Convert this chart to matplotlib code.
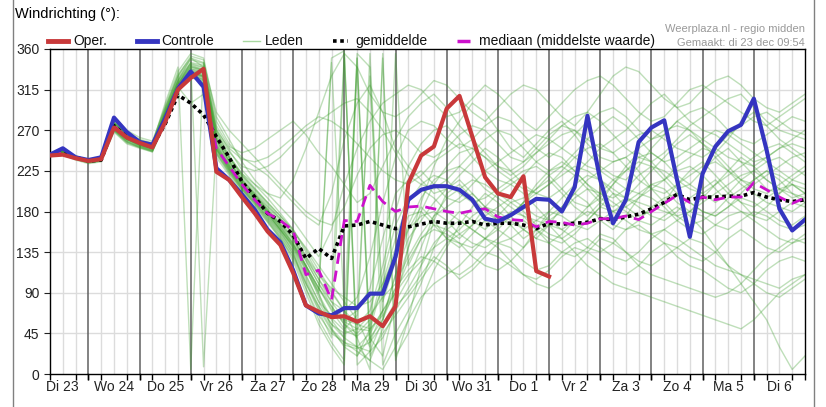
import numpy as np
import matplotlib
matplotlib.use('Agg')
import matplotlib.pyplot as plt
from matplotlib.lines import Line2D

plt.rcParams['font.family'] = ['Liberation Sans', 'DejaVu Sans']

# hours after Di 23 00:00, one value every 6 hours
hours = np.arange(6, 361, 6)
oper_hours = hours[:40]

day_labels = ['Di 23', 'Wo 24', 'Do 25', 'Vr 26', 'Za 27', 'Zo 28', 'Ma 29', 'Di 30',
              'Wo 31', 'Do 1', 'Vr 2', 'Za 3', 'Zo 4', 'Ma 5', 'Di 6']
y_ticks = [0, 45, 90, 135, 180, 225, 270, 315, 360]

oper = [242, 243, 239, 236, 238, 273, 262, 256, 251, 279, 315, 328, 338, 224, 215, 196,
        178, 158, 143, 112, 76, 69, 63, 64, 58, 64, 53, 75, 211, 242, 252, 294, 308, 263,
        218, 200, 196, 219, 114, 108]

controle = [243, 250, 240, 237, 240, 284, 268, 257, 254, 283, 316, 335, 318, 228, 215, 199,
            182, 160, 146, 115, 76, 67, 65, 73, 73, 89, 89, 130, 193, 204, 208, 208, 204, 193,
            172, 169, 176, 185, 194, 193, 180, 207, 286, 215, 167, 193, 257, 273, 281, 215,
            152, 222, 252, 269, 276, 305, 248, 183, 159, 171]

gemiddelde = [243, 245, 240, 236, 237, 275, 263, 257, 252, 277, 309, 300, 287, 263, 240, 213,
              196, 178, 169, 154, 128, 139, 128, 164, 165, 169, 165, 161, 163, 166, 169, 167,
              167, 169, 165, 167, 167, 165, 161, 167, 166, 167, 168, 172, 171, 174, 177, 183,
              190, 199, 193, 196, 196, 197, 197, 201, 196, 193, 191, 193]

mediaan = [243, 245, 240, 236, 238, 275, 262, 256, 252, 284, 318, 334, 318, 250, 230, 210,
           193, 178, 170, 159, 110, 115, 82, 170, 169, 209, 191, 180, 185, 186, 183, 180,
           178, 181, 183, 174, 171, 170, 163, 169, 168, 165, 167, 172, 172, 175, 171, 180,
           189, 198, 190, 196, 193, 196, 196, 212, 204, 196, 189, 195]

leden = [
    [244, 246, 240, 235, 238, 276, 262, 255, 250, 285, 318, 335, 330, 250, 228, 210,
     195, 178, 160, 140, 110, 80, 65, 60, 70, 95, 150, 200, 215, 225, 210, 195,
     190, 200, 185, 170, 175, 190, 205, 215, 200, 185, 175, 190, 210, 230, 245, 235,
     220, 205, 210, 225, 240, 250, 235, 220, 205, 200, 215, 225],
    [242, 248, 241, 237, 239, 270, 258, 252, 248, 290, 325, 350, 340, 260, 235, 215,
     200, 185, 170, 150, 120, 90, 50, 30, 20, 40, 60, 110, 160, 185, 170, 150,
     140, 155, 170, 160, 150, 140, 160, 175, 185, 200, 190, 170, 160, 175, 195, 210,
     205, 190, 180, 195, 210, 225, 240, 230, 215, 205, 195, 200],
    [245, 244, 238, 234, 236, 280, 265, 258, 255, 300, 340, 5, 345, 270, 240, 220,
     205, 190, 175, 160, 135, 110, 90, 70, 350, 40, 20, 80, 140, 190, 230, 260,
     280, 300, 290, 270, 250, 240, 255, 270, 280, 265, 245, 230, 220, 215, 230, 250,
     265, 280, 270, 255, 245, 260, 280, 290, 275, 260, 250, 240],
    [243, 247, 242, 236, 238, 272, 260, 254, 249, 282, 320, 345, 8, 255, 232, 212,
     198, 180, 165, 148, 125, 100, 75, 55, 45, 60, 95, 140, 175, 180, 165, 150,
     160, 175, 185, 180, 170, 160, 150, 145, 155, 170, 180, 175, 165, 160, 170, 185,
     195, 200, 190, 180, 175, 185, 195, 190, 180, 170, 165, 175],
    [241, 245, 239, 236, 240, 285, 270, 262, 258, 295, 330, 352, 348, 280, 255, 240,
     230, 220, 205, 190, 175, 165, 200, 260, 300, 320, 290, 250, 230, 215, 200, 205,
     220, 235, 250, 240, 225, 210, 200, 195, 205, 220, 235, 250, 260, 270, 285, 300,
     310, 295, 280, 270, 265, 255, 245, 235, 240, 250, 260, 270],
    [244, 243, 237, 233, 235, 268, 255, 250, 246, 278, 312, 330, 322, 240, 220, 200,
     185, 168, 150, 130, 100, 70, 40, 350, 30, 15, 50, 75, 90, 110, 130, 120,
     105, 115, 130, 145, 140, 125, 115, 120, 135, 145, 150, 140, 130, 125, 135, 150,
     160, 150, 140, 130, 120, 115, 110, 105, 100, 95, 105, 110],
    [243, 246, 240, 236, 237, 274, 261, 256, 252, 288, 322, 338, 335, 262, 238, 218,
     202, 186, 172, 155, 130, 105, 80, 60, 55, 70, 120, 180, 230, 255, 270, 275,
     260, 240, 225, 215, 210, 220, 235, 245, 240, 225, 210, 200, 195, 205, 220, 230,
     225, 215, 205, 200, 210, 220, 230, 240, 250, 255, 245, 235],
    [242, 245, 240, 235, 237, 276, 263, 254, 251, 284, 316, 332, 328, 248, 226, 206,
     190, 174, 158, 135, 95, 60, 35, 15, 355, 340, 10, 45, 70, 100, 140, 165,
     180, 170, 160, 175, 190, 180, 165, 155, 150, 160, 170, 185, 200, 195, 185, 175,
     170, 180, 195, 205, 215, 200, 190, 185, 195, 205, 210, 200],
    [245, 247, 241, 237, 239, 278, 266, 259, 254, 292, 328, 345, 342, 275, 252, 245,
     250, 260, 270, 280, 265, 245, 230, 210, 190, 200, 230, 260, 285, 300, 310, 295,
     275, 260, 245, 230, 220, 230, 245, 260, 275, 285, 290, 280, 265, 250, 240, 235,
     245, 260, 275, 285, 295, 305, 310, 295, 280, 270, 265, 260],
    [243, 244, 239, 235, 236, 271, 259, 253, 247, 280, 314, 328, 325, 245, 225, 205,
     188, 170, 152, 128, 95, 65, 45, 35, 25, 15, 5, 30, 60, 85, 100, 110,
     120, 135, 150, 140, 125, 110, 100, 95, 105, 120, 135, 150, 145, 135, 125, 120,
     130, 140, 150, 145, 135, 120, 110, 100, 90, 85, 95, 105],
    [242, 246, 241, 236, 238, 275, 262, 255, 250, 286, 320, 336, 333, 252, 230, 210,
     195, 178, 160, 140, 115, 90, 345, 70, 40, 355, 60, 110, 150, 170, 190, 205,
     215, 200, 185, 175, 165, 150, 160, 180, 195, 210, 220, 215, 200, 185, 175, 180,
     190, 210, 225, 235, 220, 205, 190, 175, 170, 180, 190, 185],
    [244, 245, 239, 235, 237, 273, 260, 255, 251, 283, 318, 300, 310, 258, 236, 216,
     200, 182, 165, 145, 120, 95, 70, 50, 65, 330, 80, 125, 165, 195, 215, 225,
     230, 220, 205, 195, 185, 175, 170, 180, 175, 165, 160, 170, 180, 190, 200, 210,
     215, 230, 240, 250, 245, 230, 215, 210, 220, 230, 240, 245],
    [243, 247, 240, 237, 239, 277, 264, 257, 253, 289, 324, 342, 337, 266, 242, 222,
     206, 190, 175, 158, 140, 120, 100, 80, 60, 30, 350, 20, 45, 80, 115, 140,
     165, 185, 200, 190, 175, 160, 150, 165, 185, 200, 215, 225, 235, 240, 225, 205,
     190, 175, 165, 170, 180, 195, 205, 215, 225, 215, 200, 190],
    [241, 244, 238, 234, 236, 270, 257, 251, 247, 281, 315, 331, 326, 246, 224, 205,
     190, 172, 155, 132, 100, 75, 55, 45, 50, 65, 85, 100, 130, 155, 175, 185,
     195, 210, 225, 235, 245, 255, 265, 260, 250, 240, 230, 225, 215, 205, 200, 195,
     185, 170, 160, 155, 165, 175, 180, 170, 160, 150, 145, 150],
    [245, 246, 240, 236, 238, 279, 267, 260, 256, 297, 335, 355, 350, 285, 260, 235,
     215, 200, 185, 170, 150, 130, 160, 210, 250, 280, 300, 310, 320, 315, 300, 285,
     290, 305, 320, 310, 295, 280, 270, 285, 300, 315, 325, 330, 320, 305, 290, 280,
     285, 300, 315, 320, 310, 300, 290, 280, 275, 285, 295, 305],
    [243, 245, 240, 236, 237, 272, 260, 254, 250, 284, 317, 334, 330, 250, 228, 208,
     193, 176, 160, 142, 118, 85, 60, 40, 340, 35, 70, 90, 110, 125, 140, 150,
     145, 130, 120, 115, 125, 140, 155, 165, 160, 150, 140, 135, 145, 160, 165, 155,
     145, 130, 120, 115, 105, 95, 90, 100, 115, 125, 130, 125],
    [242, 247, 241, 237, 239, 276, 263, 256, 252, 287, 321, 340, 336, 260, 236, 214,
     198, 182, 166, 150, 128, 105, 85, 355, 20, 50, 100, 150, 190, 210, 220, 215,
     200, 190, 195, 205, 215, 225, 230, 220, 205, 190, 185, 195, 210, 225, 240, 245,
     235, 220, 210, 200, 190, 200, 215, 225, 235, 240, 230, 220],
    [244, 246, 239, 235, 237, 274, 261, 253, 249, 283, 316, 333, 329, 249, 227, 207,
     192, 175, 158, 138, 108, 80, 55, 40, 30, 25, 40, 70, 95, 120, 145, 160,
     170, 160, 150, 145, 150, 160, 170, 165, 150, 135, 120, 110, 100, 95, 90, 85,
     80, 75, 70, 65, 60, 55, 50, 60, 75, 90, 100, 110],
    [243, 245, 241, 236, 238, 278, 264, 257, 253, 291, 326, 344, 340, 268, 246, 230,
     225, 230, 240, 255, 270, 280, 290, 300, 305, 290, 270, 245, 220, 210, 205, 215,
     230, 245, 260, 270, 265, 250, 235, 225, 230, 245, 260, 275, 285, 275, 260, 245,
     235, 240, 250, 260, 270, 265, 255, 245, 235, 225, 215, 210],
    [242, 244, 238, 235, 236, 269, 256, 251, 246, 279, 313, 329, 324, 243, 222, 203,
     187, 169, 150, 125, 90, 55, 30, 10, 350, 20, 45, 65, 85, 105, 125, 145,
     155, 165, 175, 185, 195, 185, 175, 170, 180, 195, 205, 200, 190, 180, 170, 165,
     175, 185, 175, 160, 140, 120, 100, 80, 60, 30, 5, 20],
    [243, 246, 240, 236, 238, 275, 263, 256, 252, 286, 320, 338, 334, 262, 240, 222,
     210, 200, 195, 215, 250, 290, 330, 355, 340, 310, 290, 285, 295, 310, 325, 320,
     305, 290, 280, 295, 310, 320, 315, 300, 285, 275, 290, 310, 330, 340, 335, 320,
     305, 295, 300, 315, 325, 330, 320, 305, 295, 290, 300, 310],
    [242, 245, 239, 236, 237, 273, 260, 254, 249, 282, 316, 333, 329, 252, 230, 211,
     196, 180, 163, 145, 120, 95, 75, 55, 40, 5, 355, 15, 60, 120, 170, 200,
     210, 195, 180, 170, 175, 190, 210, 225, 235, 225, 210, 195, 185, 195, 210, 225,
     240, 255, 265, 255, 240, 225, 210, 200, 190, 185, 180, 190],
    [244, 246, 240, 235, 237, 272, 260, 253, 250, 283, 317, 334, 330, 248, 226, 207,
     191, 173, 156, 136, 105, 75, 50, 35, 30, 45, 70, 95, 115, 130, 125, 115,
     110, 120, 135, 130, 120, 110, 105, 115, 130, 140, 135, 125, 115, 110, 120, 135,
     145, 140, 130, 125, 135, 150, 160, 150, 140, 135, 145, 155],
    [245, 247, 241, 237, 239, 279, 266, 259, 255, 294, 332, 350, 345, 290, 270, 255,
     240, 225, 210, 195, 180, 170, 165, 185, 220, 250, 265, 270, 260, 245, 240, 250,
     265, 275, 270, 255, 240, 235, 245, 255, 265, 270, 260, 250, 245, 255, 265, 270,
     260, 250, 245, 240, 250, 265, 275, 285, 290, 280, 270, 265],
    [243, 244, 239, 235, 236, 271, 258, 252, 248, 281, 315, 331, 327, 250, 229, 209,
     194, 177, 160, 142, 115, 88, 62, 48, 42, 55, 110, 165, 195, 205, 195, 180,
     170, 160, 150, 160, 175, 190, 200, 210, 220, 230, 225, 215, 205, 195, 190, 185,
     180, 175, 180, 190, 200, 210, 220, 225, 215, 205, 200, 195],
    [242, 246, 241, 236, 238, 274, 262, 255, 251, 285, 319, 337, 332, 255, 232, 213,
     197, 180, 163, 143, 118, 92, 350, 358, 10, 25, 60, 95, 140, 180, 210, 230,
     245, 250, 240, 225, 215, 205, 200, 210, 225, 240, 250, 255, 245, 230, 215, 205,
     200, 210, 220, 230, 235, 225, 215, 205, 200, 210, 220, 230],
    [244, 245, 240, 236, 238, 276, 263, 257, 252, 288, 322, 340, 336, 258, 234, 215,
     199, 183, 167, 150, 126, 100, 80, 70, 85, 130, 190, 240, 270, 280, 275, 260,
     250, 260, 275, 285, 280, 265, 250, 240, 250, 265, 280, 290, 295, 285, 270, 260,
     265, 280, 290, 295, 285, 270, 260, 255, 265, 275, 285, 280],
    [243, 247, 241, 237, 239, 277, 265, 258, 253, 290, 325, 343, 339, 264, 240, 220,
     204, 188, 172, 154, 130, 110, 95, 85, 75, 80, 100, 130, 160, 175, 180, 170,
     155, 145, 140, 150, 165, 170, 160, 145, 135, 130, 140, 155, 150, 135, 120, 110,
     105, 100, 95, 90, 85, 90, 100, 115, 130, 140, 150, 145],
    [242, 244, 238, 234, 236, 270, 257, 251, 247, 280, 314, 330, 326, 244, 223, 204,
     189, 171, 153, 133, 102, 72, 48, 32, 28, 35, 55, 80, 105, 140, 175, 195,
     205, 215, 210, 200, 190, 195, 205, 220, 230, 220, 205, 190, 180, 185, 195, 205,
     215, 225, 230, 220, 205, 190, 180, 175, 185, 200, 210, 205],
    [244, 246, 240, 236, 238, 277, 264, 256, 252, 289, 323, 341, 337, 270, 250, 238,
     235, 240, 250, 262, 275, 285, 280, 270, 255, 240, 225, 215, 210, 220, 235, 245,
     255, 250, 240, 230, 225, 235, 250, 265, 275, 270, 255, 240, 235, 240, 250, 260,
     270, 275, 270, 260, 250, 240, 235, 230, 240, 250, 255, 250],
    [243, 245, 240, 236, 237, 273, 261, 255, 250, 284, 318, 335, 331, 253, 231, 212,
     196, 179, 162, 144, 120, 95, 72, 58, 50, 48, 70, 355, 120, 150, 165, 160,
     150, 165, 185, 200, 210, 200, 185, 170, 160, 170, 185, 200, 215, 225, 235, 230,
     215, 200, 190, 180, 175, 185, 200, 215, 225, 220, 210, 200],
    [244, 247, 241, 237, 239, 278, 265, 258, 254, 293, 330, 348, 344, 272, 248, 226,
     210, 195, 178, 160, 138, 115, 92, 70, 55, 50, 65, 90, 125, 150, 160, 155,
     145, 140, 150, 165, 180, 175, 160, 150, 145, 155, 170, 185, 180, 170, 160, 155,
     160, 170, 180, 175, 165, 160, 170, 180, 175, 165, 160, 165],
]

red = '#c8393a'
blue = '#3535c0'
green = '#3c9e2c'
magenta = '#cc11cc'

fig = plt.figure(figsize=(8.26, 4.07), dpi=100)
ax = fig.add_axes([50 / 826, 33 / 407, 755 / 826, 325 / 407])

# grid: 45 degree rows, 6 hour columns, darker line at midnight
for v in y_ticks[1:-1]:
    ax.axhline(v, color='#dcdcdc', lw=1, zorder=0)
for h in range(12, 360, 6):
    if h % 24 == 0:
        ax.axvline(h, color='#606060', lw=1.1, zorder=0.5)
    else:
        ax.axvline(h, color='#dcdcdc', lw=1, zorder=0)

for member in leden:
    ax.plot(hours, member, color=green, lw=1, alpha=0.33, zorder=1)

ax.plot(hours, gemiddelde, color='black', lw=2.6, ls=(0, (1, 1)), zorder=3)
ax.plot(hours, mediaan, color=magenta, lw=2, ls=(0, (4, 2.5)), zorder=3)
ax.plot(hours, controle, color=blue, lw=3, zorder=4)
ax.plot(oper_hours, oper, color=red, lw=3, zorder=5)

ax.set_xlim(6, 360)
ax.set_ylim(0, 360)
ax.set_yticks(y_ticks)
ax.set_yticklabels([str(v) for v in y_ticks])
ax.set_xticks(range(12, 360, 24))
ax.set_xticklabels(day_labels)
ax.set_xticks(range(6, 361, 6), minor=True)
ax.tick_params(axis='x', which='major', length=0, labelsize=10, pad=4, colors='#222222')
ax.tick_params(axis='x', which='minor', length=4, width=1, color='black')
ax.tick_params(axis='y', length=4, labelsize=10, colors='#222222')
for h in range(24, 360, 24):
    ax.plot([h, h], [0, -5], color='black', lw=1, clip_on=False, zorder=6)
for s in ax.spines.values():
    s.set_color('black')
    s.set_linewidth(1)

# title and legend row
fig.text(15 / 826, 1 - 14 / 407, 'Windrichting (°):', fontsize=10.5, va='center', ha='left')

legend = [
    (48, 68, 73, dict(color=red, lw=3.5), 'Oper.'),
    (137, 157, 161, dict(color=blue, lw=3.5), 'Controle'),
    (243, 260, 265, dict(color='#a8d8a0', lw=1), 'Leden'),
    (333, 348, 355, dict(color='black', lw=2.6, ls=(0, (1, 1))), 'gemiddelde'),
    (457, 470, 479, dict(color=magenta, lw=2.5, ls=(0, (4, 2.5))), 'mediaan (middelste waarde)'),
]
ly = 1 - 41 / 407
for x0, x1, xt, style, label in legend:
    fig.add_artist(Line2D([x0 / 826, x1 / 826], [ly, ly], transform=fig.transFigure, **style))
    fig.text(xt / 826, ly, label, fontsize=10, va='center', ha='left', color='#111111')

fig.text(805 / 826, 1 - 29 / 407, 'Weerplaza.nl - regio midden', fontsize=8,
         ha='right', va='center', color='#999999')
fig.text(805 / 826, 1 - 43 / 407, 'Gemaakt: di 23 dec 09:54', fontsize=8,
         ha='right', va='center', color='#999999')

# outer frame of the widget
for xf in (12.5, 813.5):
    fig.add_artist(Line2D([xf / 826, xf / 826], [0, 1], transform=fig.transFigure,
                          color='#808080', lw=1))

fig.savefig('out.png', dpi=100)
